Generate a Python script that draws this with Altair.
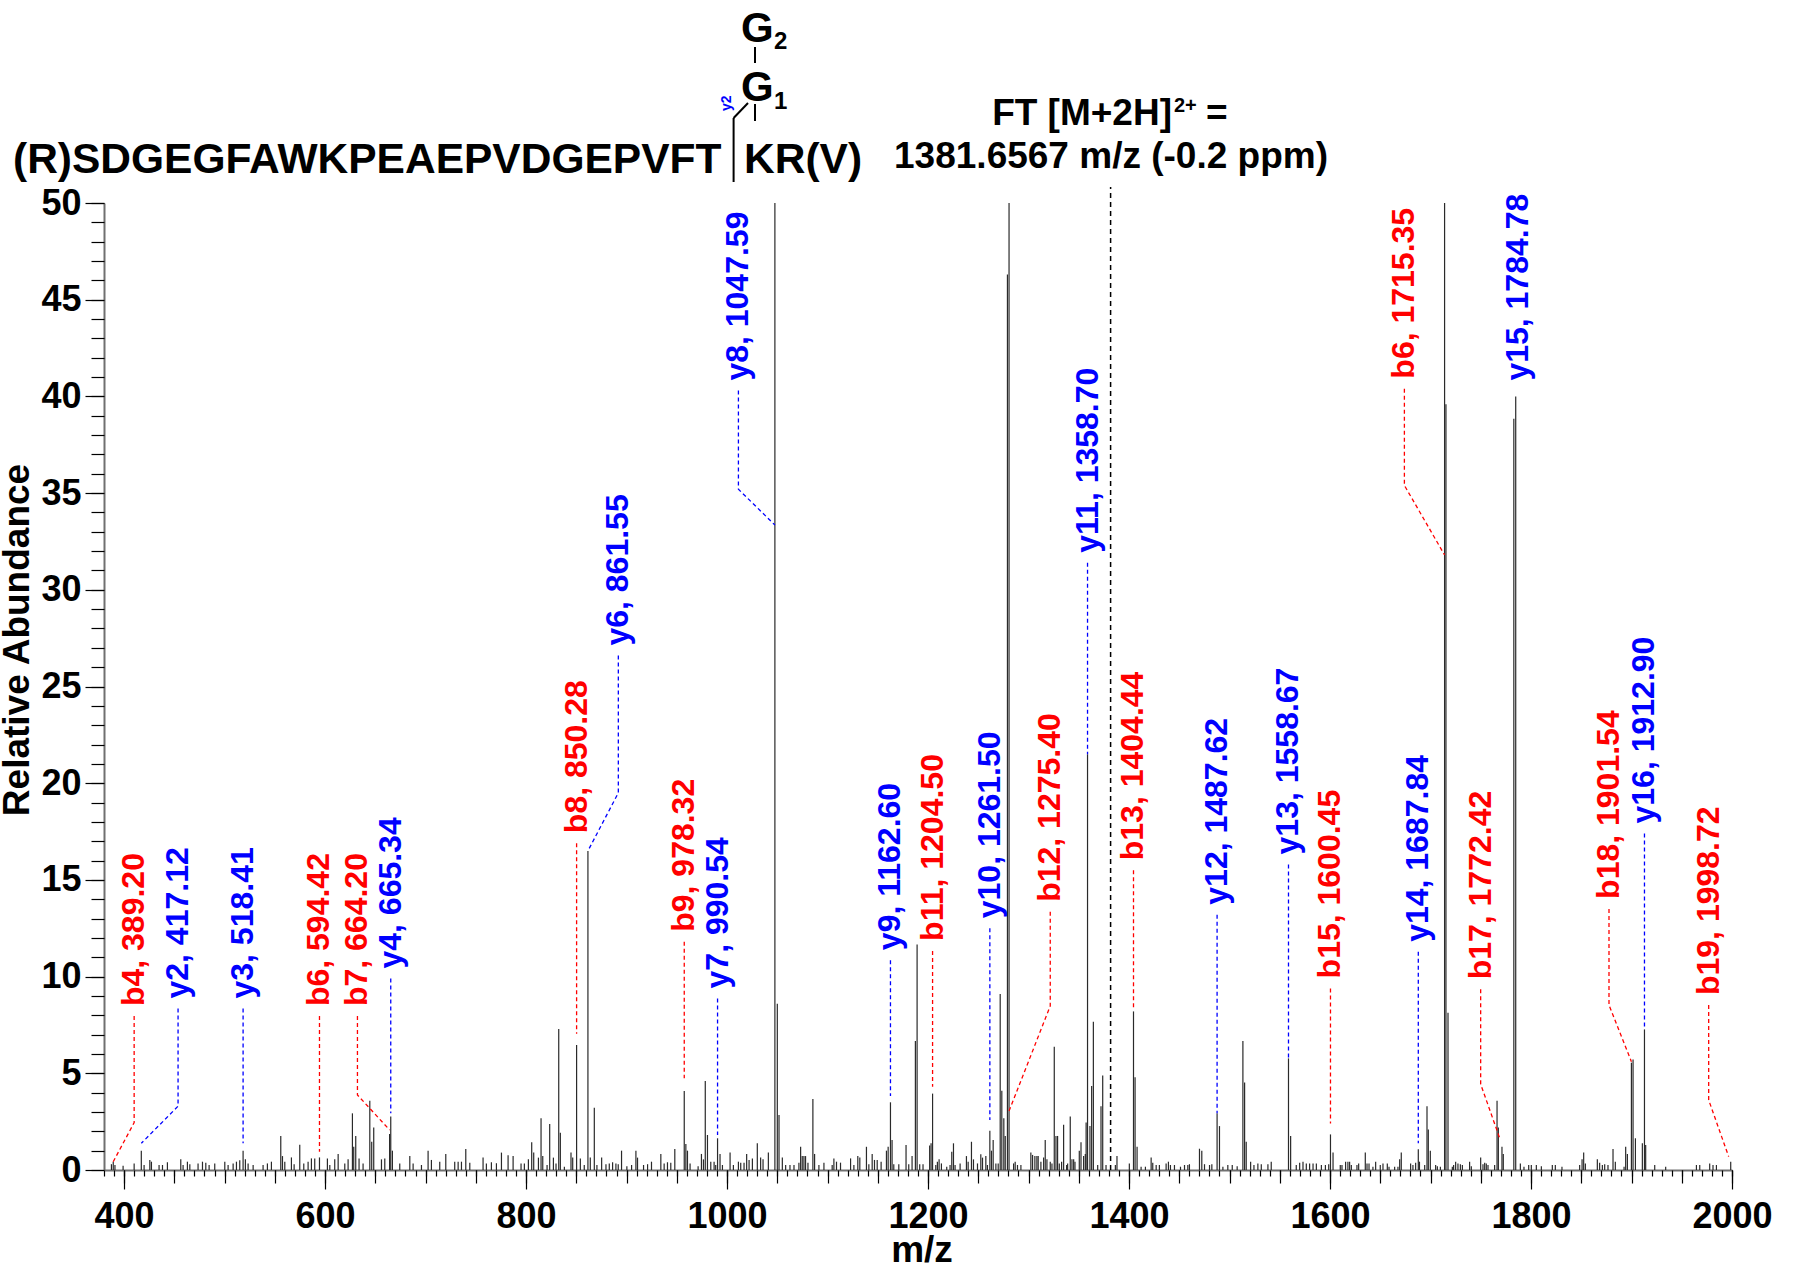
import altair as alt
import pandas as pd

# ---------------------------------------------------------------------------
# Centroided MS/MS peaks: m/z and relative abundance (%)
# ---------------------------------------------------------------------------
peak_mz = [
    387.4, 389.2, 390.9, 399.0, 410.0, 417.12, 419.9, 425.6, 427.2, 434.8,
    438.2, 443.1, 456.4, 458.7, 463.0, 465.4, 473.6, 478.0, 481.3, 484.6,
    490.2, 500.2, 503.5, 508.5, 511.8, 515.1, 518.41, 520.7, 523.4, 528.4,
    538.3, 542.6, 546.6, 555.9, 557.6, 559.9, 566.5, 569.2, 574.8, 578.8,
    583.1, 586.4, 589.7, 594.42, 602.3, 604.7, 609.6, 613.0, 619.6, 622.9,
    627.2, 628.5, 630.5, 633.8, 637.8, 644.5, 646.4, 648.4, 656.1, 659.4,
    664.2, 665.34, 667.0, 674.3, 684.3, 687.6, 695.9, 702.5, 705.8, 714.1,
    720.1, 729.0, 732.4, 735.7, 740.0, 744.0, 757.2, 760.5, 765.5, 770.5,
    775.5, 782.1, 787.1, 795.0, 798.3,
    802.3, 805.6, 807.6, 812.3, 814.9, 816.6, 820.9, 823.5, 827.2, 829.8,
    832.5, 834.1, 838.1, 844.7, 846.4, 850.28, 854.0, 857.9, 861.55, 863.9,
    867.9, 870.5, 875.2, 879.5, 882.8, 886.1, 889.4, 891.7, 895.0, 900.3,
    905.0, 909.3, 910.9, 916.9, 920.9, 924.8, 934.1, 937.4, 940.7, 944.0,
    948.0, 957.4, 959.0, 960.6, 963.2, 971.2, 974.5, 976.5, 978.32, 980.5,
    983.8, 987.1, 988.7, 990.54, 993.0, 995.4, 1003.0, 1006.3, 1011.3, 1013.6,
    1016.9, 1019.5, 1021.9, 1025.2, 1030.1, 1033.4, 1035.8, 1041.1, 1047.59, 1050.0,
    1051.7, 1055.0, 1058.3, 1062.6, 1066.6, 1071.5, 1073.2, 1074.8, 1076.5, 1078.1,
    1080.5, 1085.4, 1087.1, 1091.4, 1096.4, 1104.6, 1106.3, 1108.9, 1112.9, 1122.9,
    1126.2, 1130.1, 1132.1, 1138.7, 1141.1, 1144.4, 1146.7, 1149.4, 1153.3, 1158.6,
    1160.3, 1162.6, 1164.2, 1165.9, 1170.9, 1178.1, 1180.8, 1184.1, 1187.4, 1189.1,
    1191.7, 1195.0,
    1201.6, 1203.0, 1204.5, 1207.7, 1209.3, 1211.0, 1213.3, 1218.6, 1221.9, 1223.6,
    1225.3, 1226.9, 1231.9, 1238.2, 1239.9, 1243.2, 1245.2, 1249.2, 1252.5, 1254.2,
    1257.5, 1259.1, 1261.5, 1263.1, 1264.8, 1267.5, 1269.8, 1271.8, 1273.4, 1275.4,
    1276.8, 1279.0, 1280.6, 1285.1, 1286.7, 1289.0, 1292.4, 1302.3, 1304.0, 1306.3,
    1308.3, 1309.6, 1312.3, 1315.0, 1316.6, 1318.3, 1321.6, 1323.3, 1325.6, 1327.3,
    1328.9, 1330.6, 1332.9, 1334.9, 1337.9, 1338.9, 1341.5, 1343.2, 1344.9, 1346.2,
    1350.5, 1352.2, 1354.8, 1356.5, 1357.3, 1358.7, 1361.1, 1362.8, 1364.5, 1368.8,
    1372.1, 1373.8, 1377.1, 1386.4, 1388.0, 1400.3, 1404.44, 1406.0, 1408.0, 1412.0,
    1416.3, 1422.0, 1423.6, 1427.0, 1430.2, 1436.9, 1439.2, 1441.2, 1445.2, 1451.2,
    1455.2, 1458.5, 1460.1, 1470.1, 1472.4, 1475.1, 1480.1, 1482.4, 1487.62, 1490.0,
    1493.4, 1498.3, 1502.7, 1507.6, 1513.3, 1515.0, 1516.6, 1521.0, 1524.3, 1528.2,
    1531.6, 1538.2, 1541.5, 1558.67, 1560.8, 1566.4, 1569.8, 1573.1, 1576.4, 1579.7,
    1583.1, 1586.4, 1591.4, 1595.4, 1598.7, 1600.45, 1603.0,
    1610.2, 1611.9, 1615.5, 1617.8, 1619.5, 1621.2, 1626.8, 1628.5, 1635.1, 1636.8,
    1638.8, 1642.7, 1645.4, 1650.0, 1652.7, 1657.0, 1658.7, 1664.3, 1667.6, 1669.3,
    1670.9, 1680.2, 1682.5, 1685.2, 1687.84, 1689.0, 1694.2, 1696.5, 1697.8, 1699.8,
    1705.1, 1706.8, 1709.8, 1714.0, 1715.35, 1717.4, 1721.7, 1723.0, 1725.0, 1727.3,
    1729.7, 1731.7, 1738.9, 1740.6, 1749.9, 1752.2, 1753.9, 1755.5, 1757.2, 1763.8,
    1766.2, 1767.5, 1771.1, 1772.42, 1782.9, 1784.78, 1789.4, 1793.0, 1797.7, 1800.3,
    1805.3, 1810.3, 1821.2, 1824.2, 1830.8, 1848.4, 1850.8, 1852.4, 1854.1, 1866.0,
    1868.3, 1871.0, 1873.3, 1876.6, 1881.6, 1883.9, 1892.6, 1894.2, 1895.9, 1899.9,
    1901.54, 1903.9, 1910.8, 1912.9, 1914.1, 1923.1, 1934.0, 1964.6, 1967.9, 1977.8,
    1981.1, 1984.5, 1998.72,
]
peak_int = [
    0.30, 0.43, 0.26, 0.22, 0.34, 1.00, 0.26, 0.52, 0.43, 0.26,
    0.26, 0.40, 0.55, 0.26, 0.43, 0.30, 0.34, 0.43, 0.38, 0.26,
    0.34, 0.43, 0.26, 0.34, 0.43, 0.50, 1.00, 0.55, 0.34, 0.26,
    0.26, 0.34, 0.43, 1.76, 0.72, 0.43, 0.65, 0.30, 1.30, 0.34,
    0.43, 0.60, 0.60, 0.65, 0.60, 0.26, 0.55, 0.83, 0.34, 0.55,
    2.93, 1.20, 1.76, 0.60, 0.34, 3.58, 1.46, 2.20, 0.55, 0.60,
    1.86, 2.76, 1.00, 0.34, 0.72, 0.34, 0.26, 1.00, 0.52, 0.43,
    0.83, 0.43, 0.43, 0.43, 1.09, 0.38, 0.65, 0.34, 0.40, 0.35,
    0.90, 0.76, 0.72, 0.34, 0.34,
    0.55, 1.43, 0.90, 0.64, 2.67, 0.72, 0.26, 2.38, 0.64, 0.34,
    7.29, 1.93, 0.17, 0.90, 0.64, 6.46, 0.60, 0.26, 16.5, 0.64,
    3.22, 0.26, 0.64, 0.30, 0.34, 0.40, 0.34, 0.30, 1.00, 0.20,
    0.26, 1.00, 0.64, 0.26, 0.30, 0.43, 0.83, 0.34, 0.40, 0.38,
    1.09, 4.08, 1.34, 1.00, 0.34, 0.20, 0.83, 0.55, 4.60, 1.81,
    0.43, 0.43, 0.26, 1.64, 0.83, 0.26, 0.90, 0.26, 0.43, 0.38,
    0.38, 0.83, 0.52, 0.60, 1.38, 0.64, 0.55, 0.90, 62.0, 8.60,
    2.84, 0.64, 0.26, 0.26, 0.26, 0.38, 1.20, 0.72, 0.72, 0.72,
    0.38, 3.67, 0.83, 0.26, 0.38, 0.26, 0.60, 0.43, 0.38, 0.60,
    0.26, 0.72, 0.64, 1.20, 0.30, 0.83, 0.52, 0.52, 0.43, 1.00,
    1.20, 3.50, 1.55, 0.30, 0.30, 1.29, 0.30, 0.72, 6.67, 11.66,
    0.30, 0.30,
    1.27, 1.38, 3.95, 0.26, 0.43, 0.55, 0.34, 0.17, 0.26, 0.95,
    1.38, 0.26, 0.34, 0.72, 0.43, 1.46, 0.55, 0.34, 0.81, 0.64,
    0.72, 0.26, 2.03, 1.00, 1.55, 0.34, 0.34, 9.10, 4.10, 2.67,
    1.76, 46.3, 100.0, 0.34, 0.43, 0.26, 0.26, 0.90, 0.78, 0.72,
    0.72, 0.72, 0.43, 0.64, 1.55, 0.55, 0.43, 0.34, 6.37, 1.76,
    1.76, 0.34, 0.43, 2.34, 0.26, 0.34, 2.76, 0.55, 0.55, 0.43,
    1.00, 1.43, 0.72, 0.83, 2.46, 21.5, 2.27, 4.34, 7.67, 0.26,
    3.30, 4.88, 0.26, 0.26, 0.72, 0.34, 8.20, 4.80, 1.20, 0.17,
    0.17, 0.64, 0.38, 0.26, 0.26, 0.34, 0.43, 0.26, 0.26, 0.17,
    0.26, 0.26, 0.30, 1.10, 1.00, 0.30, 0.26, 0.30, 2.93, 2.27,
    0.17, 0.26, 0.26, 0.20, 6.67, 4.53, 1.46, 0.43, 0.26, 0.34,
    0.30, 0.30, 0.43, 5.77, 1.76, 0.26, 0.38, 0.43, 0.34, 0.34,
    0.34, 0.34, 0.26, 0.26, 0.30, 1.84, 0.90,
    0.26, 0.26, 0.43, 0.43, 0.43, 0.26, 0.26, 0.34, 0.90, 0.34,
    0.34, 0.17, 0.43, 0.26, 0.34, 0.34, 0.17, 0.17, 0.17, 0.55,
    0.90, 0.34, 0.26, 0.38, 1.07, 0.43, 0.26, 3.30, 2.10, 1.00,
    0.26, 0.20, 0.17, 78.0, 39.6, 8.13, 0.17, 0.26, 0.43, 0.34,
    0.30, 0.26, 0.43, 0.20, 0.64, 0.30, 0.38, 0.34, 0.26, 0.26,
    3.58, 2.20, 1.20, 0.83, 38.85, 40.0, 0.34, 0.17, 0.26, 0.26,
    0.26, 0.20, 0.26, 0.26, 0.17, 0.26, 0.55, 0.90, 0.34, 0.55,
    0.38, 0.26, 0.30, 0.26, 1.09, 0.43, 0.17, 1.20, 0.83, 5.55,
    5.72, 1.64, 1.38, 7.27, 1.29, 0.26, 0.17, 0.26, 0.26, 0.34,
    0.26, 0.26, 0.43,
]

# ---------------------------------------------------------------------------
# Fragment-ion annotations: text, label position (m/z, abundance),
# connector bend height, and the peak top the connector points to
# ---------------------------------------------------------------------------
ion_labels = [
    "b4, 389.20", "y2, 417.12", "y3, 518.41", "b6, 594.42", "b7, 664.20",
    "y4, 665.34", "b8, 850.28", "y6, 861.55", "b9, 978.32", "y7, 990.54",
    "y8, 1047.59", "y9, 1162.60", "b11, 1204.50", "y10, 1261.50", "b12, 1275.40",
    "y11, 1358.70", "b13, 1404.44", "y12, 1487.62", "y13, 1558.67", "b15, 1600.45",
    "y14, 1687.84", "b6, 1715.35", "b17, 1772.42", "y15, 1784.78", "b18, 1901.54",
    "y16, 1912.90", "b19, 1998.72",
]
label_mz = [
    410.0, 453.7, 518.41, 594.42, 632.2, 665.34, 850.28, 891.8, 957.4, 990.54,
    1011.3, 1162.6, 1204.5, 1261.5, 1321.6, 1358.7, 1404.44, 1487.62, 1558.67, 1600.45,
    1687.84, 1674.0, 1749.9, 1787.3, 1877.6, 1912.9, 1976.8,
]
label_int = [
    7.96, 8.35, 8.35, 7.96, 7.96, 9.90, 16.9, 26.6, 11.8, 8.87,
    40.3, 10.85, 11.33, 12.5, 13.35, 31.4, 15.5, 13.2, 15.8, 9.39,
    11.28, 40.4, 9.34, 40.3, 13.5, 17.4, 8.53,
]
bend_int = [
    2.45, 3.30, 1.38, 0.95, 3.88, 2.93, 7.05, 19.5, 4.74, 1.81,
    35.2, 3.82, 4.30, 2.58, 8.48, 21.5, 8.35, 2.93, 5.77, 2.41,
    1.38, 35.4, 4.44, 40.3, 8.53, 7.27, 3.62,
]
target_mz = [
    389.2, 417.12, 518.41, 594.42, 664.2, 665.34, 850.28, 861.55, 957.4, 990.54,
    1047.59, 1162.6, 1204.5, 1261.5, 1279.7, 1358.7, 1404.44, 1487.62, 1558.67, 1600.45,
    1687.84, 1714.0, 1769.5, 1787.3, 1899.9, 1912.9, 1996.7,
]
target_int = [
    0.43, 1.38, 1.38, 0.95, 2.07, 2.93, 7.05, 16.5, 4.74, 1.81,
    33.35, 3.82, 4.30, 2.58, 2.93, 21.5, 8.35, 2.93, 5.77, 2.41,
    1.38, 31.8, 1.55, 40.3, 5.60, 7.27, 0.69,
]

precursor_mz = 1381.6567

# axis tick positions
x_label_ticks = list(range(400, 2001, 200))
x_mid_ticks = list(range(400, 2001, 50))
x_minor_ticks = list(range(380, 2001, 10))
y_label_ticks = list(range(0, 51, 5))
y_minor_ticks = list(range(0, 51, 1))

FONT = "Liberation Sans"
W, H = 1628, 967

x_scale = alt.Scale(domain=[380, 2000], nice=False, zero=False)
y_scale = alt.Scale(domain=[0, 50], nice=False)
ion_scale = alt.Scale(domain=["b", "y"], range=["#ff0000", "#0000ff"])


def tick_axis(values, size, orient, labels=False, domain=False, pad=4):
    kw = dict(values=values, tickSize=size, orient=orient, labels=labels,
              domain=domain, grid=False, title=None, tickColor="black",
              tickWidth=1.2, ticks=True)
    if labels:
        kw.update(labelFont=FONT, labelFontWeight="bold", labelFontSize=36,
                  labelColor="black", labelFlush=False, labelOverlap=False,
                  labelPadding=pad, format="d")
    if domain:
        kw.update(domainColor="#707070", domainWidth=2)
    return alt.Axis(**kw)


# --- data tables ---
peaks_df = pd.DataFrame({"mz": peak_mz, "intensity": peak_int})
peaks_df["base"] = 0.0

conn_rows = []
for i, (lab, lx, ly, by, tx, ty) in enumerate(
        zip(ion_labels, label_mz, label_int, bend_int, target_mz, target_int)):
    ion = lab[0]
    conn_rows += [
        dict(id=i, step=0, mz=lx, h=ly, ion=ion),
        dict(id=i, step=1, mz=lx, h=by, ion=ion),
        dict(id=i, step=2, mz=tx, h=ty, ion=ion),
    ]
conn_df = pd.DataFrame(conn_rows)

labels_df = pd.DataFrame({
    "text": ion_labels, "mz": label_mz, "h": label_int,
    "ion": [t[0] for t in ion_labels],
})

prec_df = pd.DataFrame({"mz": [precursor_mz], "lo": [0.0], "hi": [50.83]})

# --- spectrum layers ---
peaks_layer = alt.Chart(peaks_df).mark_rule(
    color="#2a2a2a", strokeWidth=1.2, clip=True
).encode(
    x=alt.X("mz:Q", scale=x_scale,
            axis=tick_axis(x_label_ticks, 19, "bottom", labels=True, domain=True, pad=10)),
    y=alt.Y("intensity:Q", scale=y_scale,
            axis=tick_axis(y_label_ticks, 19, "left", labels=True, domain=True, pad=4)),
    y2="base:Q",
)

conn_layer = alt.Chart(conn_df).mark_line(
    strokeDash=[4, 3], strokeWidth=1.3, clip=False
).encode(
    x=alt.X("mz:Q", scale=x_scale, axis=tick_axis(x_mid_ticks, 13, "bottom")),
    y=alt.Y("h:Q", scale=y_scale, axis=tick_axis(y_minor_ticks, 13, "left")),
    detail="id:N",
    order="step:Q",
    color=alt.Color("ion:N", scale=ion_scale, legend=None),
)

label_layer = alt.Chart(labels_df).mark_text(
    angle=270, align="left", baseline="middle", dx=10,
    font=FONT, fontWeight="bold", fontSize=32
).encode(
    x=alt.X("mz:Q", scale=x_scale, axis=tick_axis(x_minor_ticks, 6, "bottom")),
    y=alt.Y("h:Q", scale=y_scale, axis=None),
    text="text:N",
    color=alt.Color("ion:N", scale=ion_scale, legend=None),
)

prec_layer = alt.Chart(prec_df).mark_rule(
    color="black", strokeDash=[5, 4], strokeWidth=1.5, clip=False
).encode(
    x=alt.X("mz:Q", scale=x_scale, axis=None),
    y=alt.Y("lo:Q", scale=y_scale, axis=None),
    y2="hi:Q",
)

# --- header: peptide sequence, glycan, precursor note, axis titles ---
header_texts = [
    # text, x, y, size, color, align, angle, baseline
    ("(R)SDGEGFAWKPEAEPVDGEPVFT", -91, -30, 42.5, "black", "left", 0, "alphabetic"),
    ("KR(V)", 640, -30, 42.5, "black", "left", 0, "alphabetic"),
    ("G", 637, -102, 42, "black", "left", 0, "alphabetic"),
    ("1", 670, -94, 24, "black", "left", 0, "alphabetic"),
    ("G", 637, -161, 42, "black", "left", 0, "alphabetic"),
    ("2", 670, -154, 24, "black", "left", 0, "alphabetic"),
    ("y2", 623, -92, 14, "#0000ff", "left", 270, "middle"),
    ("FT [M+2H]", 1068, -78, 37, "black", "right", 0, "alphabetic"),
    ("2+", 1070, -91, 20, "black", "left", 0, "alphabetic"),
    ("=", 1102, -78, 37, "black", "left", 0, "alphabetic"),
    ("1381.6567 m/z (-0.2 ppm)", 1007, -35, 37, "black", "center", 0, "alphabetic"),
    ("Relative Abundance", -75, 437, 37, "black", "center", 270, "alphabetic"),
    ("m/z", 818, 1059, 37, "black", "center", 0, "alphabetic"),
]
header_lines = [
    # x, y, x2, y2
    (629.6, -85, 629.6, -21),
    (629.6, -85, 644.0, -100),
    (651.0, -156, 651.0, -140),
    (651.0, -99, 651.0, -82),
]

header_layers = []
for t, hx, hy, size, color, align, angle, base in header_texts:
    header_layers.append(
        alt.Chart(pd.DataFrame({"t": [t]})).mark_text(
            font=FONT, fontWeight="bold", fontSize=size, color=color,
            align=align, baseline=base, angle=angle
        ).encode(text="t:N", x=alt.value(hx), y=alt.value(hy))
    )
for lx1, ly1, lx2, ly2 in header_lines:
    header_layers.append(
        alt.Chart(pd.DataFrame({"k": [0]})).mark_rule(
            color="black", strokeWidth=2
        ).encode(x=alt.value(lx1), y=alt.value(ly1),
                 x2=alt.value(lx2), y2=alt.value(ly2))
    )

chart = alt.layer(
    peaks_layer, conn_layer, label_layer, prec_layer, *header_layers
).resolve_axis(
    x="independent", y="independent"
).properties(
    width=W, height=H,
    padding={"left": 104, "top": 203, "right": 63, "bottom": 99},
    autosize=alt.AutoSizeParams(type="none"),
    background="white",
).configure_view(stroke=None)

chart.save("out.html", embed_options={"renderer": "svg", "actions": False})
